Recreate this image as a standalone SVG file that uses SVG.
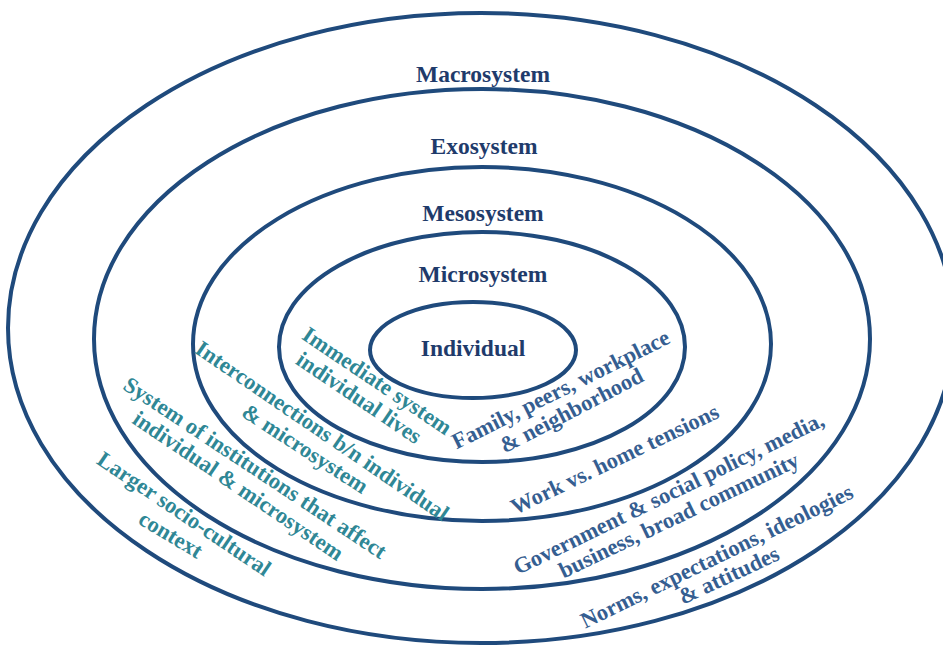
<svg xmlns="http://www.w3.org/2000/svg" width="943" height="647" viewBox="0 0 943 647">
<style>
.ring{fill:none;stroke:#1F4A7C;stroke-width:4}
.title{font-family:"Liberation Serif","Times New Roman",serif;font-weight:bold;font-size:23.5px;fill:#1F3B6B;text-anchor:middle}
.lt{font-family:"Liberation Serif","Times New Roman",serif;font-weight:bold;font-size:22.5px;fill:#2F8795;text-anchor:middle}
.rt{font-family:"Liberation Serif","Times New Roman",serif;font-weight:bold;font-size:22.5px;fill:#355E91;text-anchor:middle}
</style>
<rect width="943" height="647" fill="#FFFFFF"/>
<g id="macrosystem">
<ellipse class="ring" cx="481" cy="328" rx="473" ry="315"/>
<text class="title" x="483" y="82">Macrosystem</text>
<text class="lt" transform="translate(180,520) rotate(34)">Larger socio-cultural</text>
<text class="lt" transform="translate(167,541) rotate(31)">context</text>
<text class="rt" transform="translate(720,563) rotate(-26)">Norms, expectations, ideologies</text>
<text class="rt" transform="translate(732,582) rotate(-25)">&amp; attitudes</text>
</g>
<g id="exosystem">
<ellipse class="ring" cx="482" cy="339" rx="388" ry="250"/>
<text class="title" x="484" y="154">Exosystem</text>
<text class="lt" transform="translate(251,474) rotate(33.5)">System of institutions that affect</text>
<text class="lt" transform="translate(234,492) rotate(34)">individual &amp; microsystem</text>
<text class="rt" transform="translate(672,500) rotate(-26)">Government &amp; social policy, media,</text>
<text class="rt" transform="translate(682,522) rotate(-25.5)">business, broad community</text>
</g>
<g id="mesosystem">
<ellipse class="ring" cx="482" cy="344" rx="289" ry="177"/>
<text class="title" x="483" y="221">Mesosystem</text>
<text class="lt" transform="translate(318,437) rotate(34.3)">Interconnections b/n individual</text>
<text class="lt" transform="translate(301,455) rotate(33)">&amp; microsystem</text>
<text class="rt" transform="translate(618,466) rotate(-25.5)">Work vs. home tensions</text>
</g>
<g id="microsystem">
<ellipse class="ring" cx="482" cy="347" rx="203" ry="115"/>
<text class="title" x="483" y="282">Microsystem</text>
<text class="lt" transform="translate(373,387) rotate(34)">Immediate system</text>
<text class="lt" transform="translate(355,404) rotate(34)">individual lives</text>
<text class="rt" transform="translate(564,396) rotate(-26.5)">Family, peers, workplace</text>
<text class="rt" transform="translate(575,417) rotate(-27.5)">&amp; neighborhood</text>
</g>
<g id="individual">
<ellipse class="ring" cx="473" cy="350" rx="103" ry="48"/>
<text class="title" x="473" y="356">Individual</text>
</g>
</svg>
